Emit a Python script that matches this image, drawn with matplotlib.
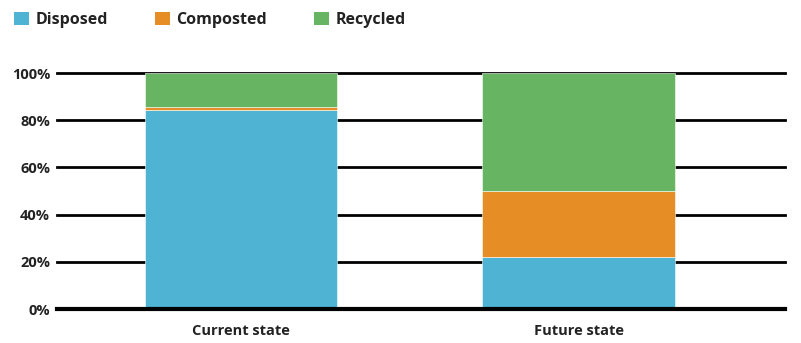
import numpy as np
import matplotlib.pyplot as plt
from matplotlib.patches import Patch

plt.rcParams['font.family'] = ['Open Sans', 'DejaVu Sans']
plt.rcParams['font.weight'] = 'bold'

categories = ['Current state', 'Future state']
series = ['Disposed', 'Composted', 'Recycled']
disposed = [84.5, 22]
composted = [1, 28]
recycled = [14.5, 50]
colors = ['#4FB3D3', '#E68E25', '#67B462']
yticks = [0, 20, 40, 60, 80, 100]

fig = plt.figure(figsize=(8.01, 3.43), dpi=100)
ax = fig.add_axes([0.0712, 0.099, 0.909, 0.688])

x = np.arange(len(categories))
w = 0.57
bottom = np.zeros(len(categories))
for vals, c in zip([disposed, composted, recycled], colors):
    ax.bar(x, vals, w, bottom=bottom, color=c, edgecolor='white', linewidth=0.4, zorder=3)
    bottom += np.array(vals)

for t in yticks[1:]:
    ax.axhline(t, color='black', lw=2, zorder=1, clip_on=False)
ax.axhline(0, color='black', lw=3, zorder=4, clip_on=False)

ax.set_xlim(-0.545, 1.612)
ax.set_ylim(0, 100)
ax.set_yticks(yticks)
ax.set_yticklabels([f'{t}%' for t in yticks], fontsize=10.5, color='#222222')
ax.set_xticks(x)
ax.set_xticklabels(categories, fontsize=10.5, color='#222222')
ax.tick_params(axis='both', length=0)
ax.tick_params(axis='y', pad=5)
ax.tick_params(axis='x', pad=11)
for s in ax.spines.values():
    s.set_visible(False)

handles = [Patch(facecolor=c) for c in colors]
fig.legend(handles, series, loc='upper left', bbox_to_anchor=(-0.001, 1.008), ncol=3,
           frameon=False, handlelength=0.95, handleheight=0.95, handletextpad=0.4,
           columnspacing=2.95, prop={'size': 11.5, 'weight': 'bold'}, labelcolor='#222222')

fig.savefig('out.png', dpi=100)
